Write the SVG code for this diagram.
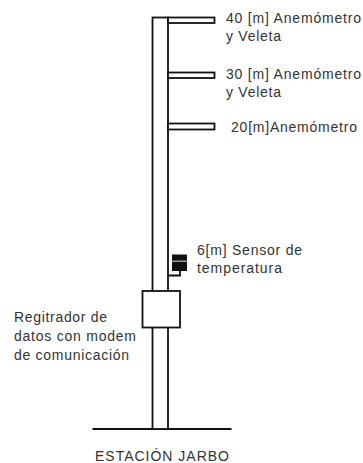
<svg xmlns="http://www.w3.org/2000/svg" width="363" height="463" viewBox="0 0 363 463">
<style>
.s{fill:none;stroke:#111;stroke-width:1.8}
.f{fill:#fff;stroke:#111;stroke-width:1.8}
text{font-family:"Liberation Sans",Arial,sans-serif;font-size:14px;fill:#333}
</style>
<rect width="363" height="463" fill="#fff"/>
<g id="connectors">
<path class="s" d="M92.500 429H231.500"/>
<path class="s" d="M168.500 275.500H180V271"/>
</g>
<g id="mast"><rect class="f" x="152.500" y="17.500" width="15.500" height="411.500"/></g>
<g id="arm-40"><rect class="f" x="168" y="17.500" width="46.500" height="5.500"/><text x="226" y="23" textLength="135">40 [m] Anemómetro</text><text x="226" y="41" textLength="55">y Veleta</text></g>
<g id="arm-30"><rect class="f" x="168" y="72.500" width="46.500" height="5.500"/><text x="226" y="78.500" textLength="135">30 [m] Anemómetro</text><text x="226" y="96.500" textLength="55">y Veleta</text></g>
<g id="arm-20"><rect class="f" x="168" y="123.500" width="46.500" height="6"/><text x="231" y="132" textLength="126">20[m]Anemómetro</text></g>
<g id="sensor"><rect x="172" y="254.500" width="15" height="16.500" fill="#111"/><rect x="172" y="260.500" width="15" height="1.500" fill="#999"/><text x="197" y="254.500" textLength="105">6[m] Sensor de</text><text x="197" y="273" textLength="85">temperatura</text></g>
<g id="registrador"><rect class="f" x="142.500" y="291" width="37.500" height="36.500"/><text x="14" y="322" textLength="93">Regitrador de</text><text x="14" y="341" textLength="122">datos con modem</text><text x="14" y="359.500" textLength="115">de comunicación</text></g>
<g id="estacion"><text x="95" y="461" textLength="134">ESTACIÓN JARBO</text></g>
</svg>
